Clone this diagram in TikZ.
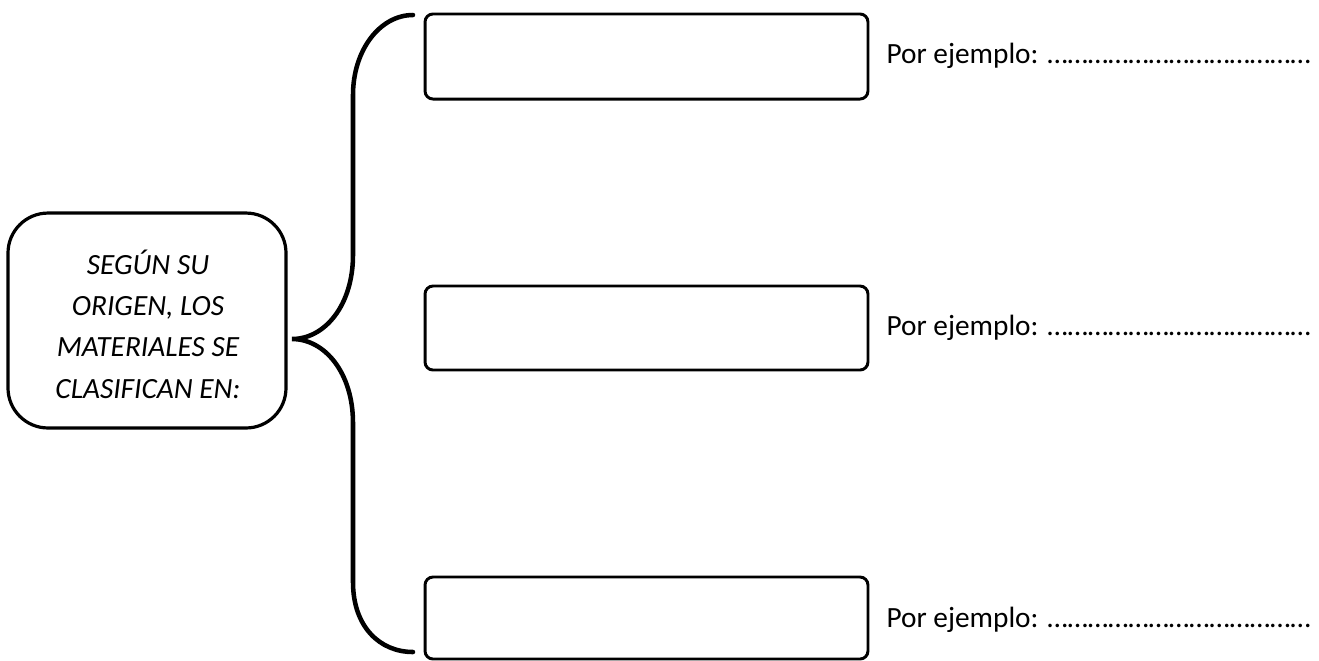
\documentclass[tikz,border=0pt]{standalone}
\usepackage{fontspec}
\setmainfont{Carlito}
\begin{document}
\begin{tikzpicture}[x=0.375pt,y=-0.375pt,
  rbox/.style={draw,line width=1.1pt,rounded corners=3pt,inner sep=0pt,outer sep=0pt,minimum width=166.1pt},
  lboxst/.style={draw,line width=1.2pt,rounded corners=15pt,inner sep=0pt,outer sep=0pt,minimum width=104.25pt,minimum height=80.6pt},
  bracest/.style={line width=1.7pt,line cap=round},
  exst/.style={anchor=base west,inner sep=0pt,font=\fontsize{11}{13.4}\selectfont},
  ltxt/.style={align=center,inner sep=0pt,font=\fontsize{11}{15.5}\selectfont\itshape}]
\useasboundingbox (0,0) rectangle (1319,660);
\node[lboxst] (lbox) at (147,320.5) {};
\node[ltxt] (ltext) at (148,324) {SEGÚN SU\\ORIGEN, LOS\\MATERIALES SE\\CLASIFICAN EN:};
\node[rbox,minimum height=31.9pt] (b1) at (646.5,56.5) {};
\node[rbox,minimum height=31.5pt] (b2) at (646.5,328) {};
\node[rbox,minimum height=30.75pt] (b3) at (646.5,618) {};
\node[exst] (e1) at (886,63) {Por ejemplo: …………………………………};
\node[exst] (e2) at (886,335) {Por ejemplo: …………………………………};
\node[exst] (e3) at (886,627) {Por ejemplo: …………………………………};
\coordinate (tt) at (413,15);
\coordinate (tm) at (292,339);
\coordinate (tb) at (413,652);
\draw[bracest] (tt) .. controls (380,15) and (353,50) .. (353,95) -- (353,255)
  .. controls (353,305) and (325,339) .. (tm)
  .. controls (325,339) and (353,373) .. (353,423) -- (353,582)
  .. controls (353,627) and (380,652) .. (tb);
\end{tikzpicture}
\end{document}
